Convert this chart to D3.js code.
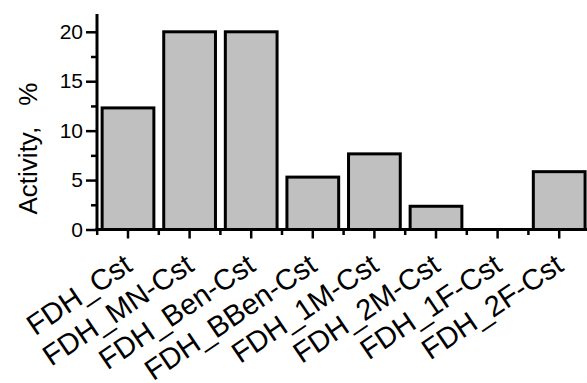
<!DOCTYPE html>
<html><head><meta charset="utf-8">
<script src="https://cdn.jsdelivr.net/npm/d3@7"></script>
<style>
html,body{margin:0;padding:0;background:#fff;}
svg{display:block;}
text{font-family:"Liberation Sans",Arial,sans-serif;fill:#000;}
</style></head>
<body>
<svg id="chart" width="587" height="383"></svg>
<script>
const categories = ["FDH_Cst","FDH_MN-Cst","FDH_Ben-Cst","FDH_BBen-Cst","FDH_1M-Cst","FDH_2M-Cst","FDH_1F-Cst","FDH_2F-Cst"];
const activity = [12.3, 20, 20, 5.3, 7.65, 2.35, 0, 5.85];
const yTicks = [0, 5, 10, 15, 20];
const yMinorTicks = [2.5, 7.5, 12.5, 17.5];
const yTitle = "Activity, %";

const svg = d3.select("#chart");
const x = d3.scaleBand().domain(categories).range([97.2, 590]).paddingInner(0.16).paddingOuter(0.08);
const y = d3.scaleLinear().domain([0, 21.8]).range([229.5, 14]);

// bars
svg.append("g").selectAll("rect").data(categories).join("rect")
  .attr("x", d => x(d))
  .attr("width", x.bandwidth())
  .attr("y", (d,i) => y(activity[i]))
  .attr("height", (d,i) => y(0) - y(activity[i]))
  .attr("fill", "#c0c0c0").attr("stroke", "#000").attr("stroke-width", 3);

// y axis
const yAxis = svg.append("g").attr("transform", "translate(97,0)")
  .call(d3.axisLeft(y).tickValues(yTicks).tickSize(11).tickPadding(3).tickFormat(d3.format("d")));
yAxis.select(".domain").remove();
yAxis.selectAll(".tick line").attr("stroke-width", 2.5);
yAxis.selectAll(".tick text").attr("font-size", 21).style("font-family", '"Liberation Sans",Arial,sans-serif');
const yMinor = svg.append("g").attr("transform", "translate(97,0)")
  .call(d3.axisLeft(y).tickValues(yMinorTicks).tickSize(6).tickFormat(""));
yMinor.select(".domain").remove();
yMinor.selectAll(".tick line").attr("stroke-width", 2.5);
svg.append("line").attr("x1", 97).attr("x2", 97).attr("y1", y.range()[1]).attr("y2", y(0) + 1.5)
  .attr("stroke", "#000").attr("stroke-width", 3);

// x axis
const xAxis = svg.append("g").attr("transform", `translate(0,${y(0)})`)
  .call(d3.axisBottom(x).tickSize(9).tickFormat(""));
xAxis.select(".domain").remove();
xAxis.selectAll(".tick line").attr("stroke-width", 2.5);
const bounds = d3.range(categories.length + 1).map(i => x.range()[0] + i * x.step());
svg.append("g").selectAll("line").data(bounds).join("line")
  .attr("x1", d => d).attr("x2", d => d).attr("y1", y(0)).attr("y2", y(0) + 5.5)
  .attr("stroke", "#000").attr("stroke-width", 2.5);
svg.append("line").attr("x1", 95.5).attr("x2", 587).attr("y1", y(0)).attr("y2", y(0))
  .attr("stroke", "#000").attr("stroke-width", 3);

// x labels
svg.append("g").selectAll("text").data(categories).join("text")
  .attr("transform", d => `translate(${x(d) + x.bandwidth()/2 + 6},${y(0) + 40}) rotate(-34)`)
  .attr("text-anchor", "end")
  .attr("font-size", 29)
  .text(d => d);

// y title
svg.append("text")
  .attr("transform", `translate(37,${(80+217)/2}) rotate(-90)`)
  .attr("text-anchor", "middle")
  .attr("font-size", 26)
  .style("word-spacing", "14px")
  .text(yTitle);
</script>
</body></html>
